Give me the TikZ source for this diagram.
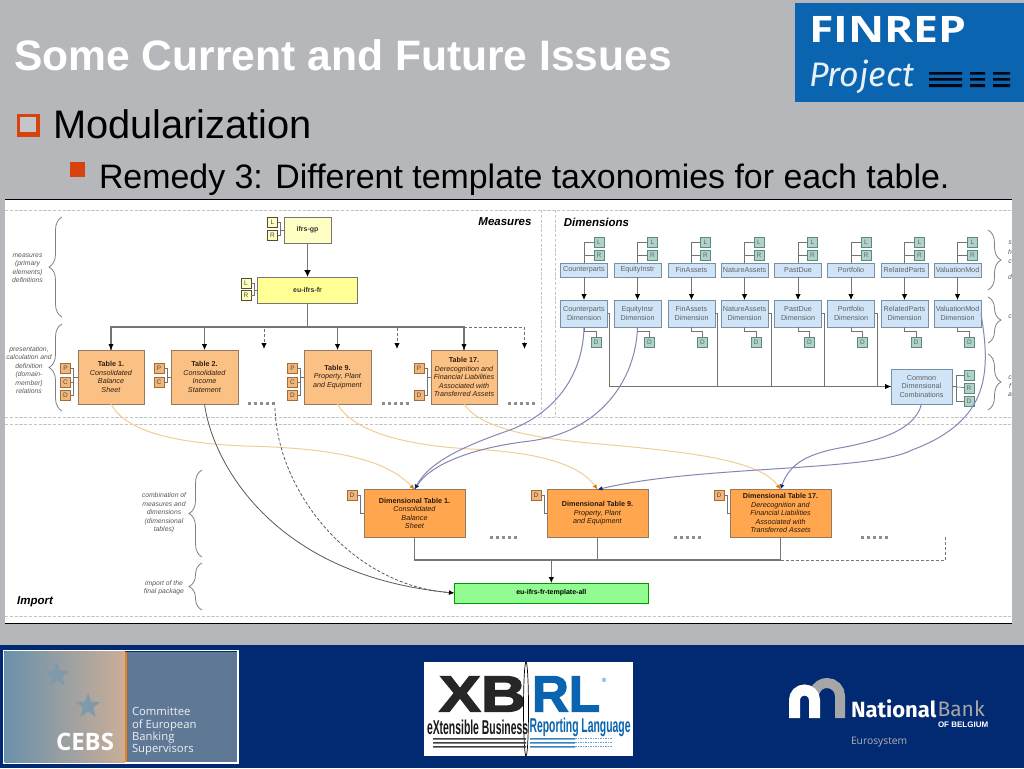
\documentclass[tikz,border=0pt]{standalone}
\usepackage{fontspec}
\setmainfont{Liberation Sans}
\newfontfamily\logofont{Fira Sans}
\newfontfamily\humanfont{Open Sans}
\newfontfamily\heavyfont[FakeBold=2.5]{Liberation Sans Bold}
\usetikzlibrary{arrows.meta,positioning,decorations.pathreplacing,shapes.geometric}
\definecolor{slidebg}{HTML}{B5B7BA}
\definecolor{navy}{HTML}{022A73}
\definecolor{finblue}{HTML}{0A64AF}
\definecolor{bullet}{HTML}{D8420F}
\definecolor{panelline}{HTML}{C4C6C6}
\definecolor{boxline}{HTML}{777777}
\definecolor{gpyellow}{HTML}{FFFFC4}
\definecolor{euyellow}{HTML}{FFFF96}
\definecolor{tblfill}{HTML}{FBC084}
\definecolor{tblline}{HTML}{977A5E}
\definecolor{dtfill}{HTML}{FFA64F}
\definecolor{dimfill}{HTML}{CFE4F7}
\definecolor{dimline}{HTML}{7B8FA3}
\definecolor{tealfill}{HTML}{AED2CC}
\definecolor{tealline}{HTML}{5F8878}
\definecolor{bluelink}{HTML}{8486B4}
\definecolor{orangelink}{HTML}{F1CE98}
\definecolor{greenfill}{HTML}{92FC92}
\definecolor{slate}{HTML}{5F7895}
\definecolor{cebsleft}{HTML}{6A91AB}
\definecolor{cebsmid}{HTML}{A2B7B8}
\definecolor{cebsright}{HTML}{CBAE98}
\definecolor{cebsstar}{HTML}{7E9AAB}
\begin{document}
\begin{tikzpicture}[x=1pt,y=-1pt,>=Latex,
every node/.style={inner sep=0pt,outer sep=0pt},
dtext/.style={font=\fontsize{7.2}{8.5}\selectfont,align=center},
sidetext/.style={dtext,text=black!65,font=\fontsize{6.8}{8.5}\selectfont\itshape},
headtext/.style={font=\fontsize{11.5}{12}\selectfont\bfseries\itshape},
gpbox/.style={draw=boxline,line width=0.8pt,dtext,text=black!80,font=\fontsize{7}{8.5}\selectfont\bfseries},
tblbox/.style={draw=tblline,line width=0.9pt,fill=tblfill,dtext,minimum height=54pt,text=black!75!brown},
dtbox/.style={draw=tblline,line width=0.9pt,fill=dtfill,dtext,minimum width=101pt,minimum height=47.5pt,text=black!80!brown},
namebox/.style={draw=dimline,line width=0.8pt,fill=dimfill,dtext,text=black!62,minimum width=47pt,minimum height=14pt},
dimbox/.style={namebox,minimum height=27pt},
lrbadge/.style={draw=black!55!olive,line width=0.6pt,fill=gpyellow,dtext,text=black!70,minimum size=10pt,font=\fontsize{6.5}{7}\selectfont},
orbadge/.style={draw=brown!85!black,line width=0.7pt,fill=tblfill!85!brown,dtext,text=black!70,minimum size=10pt,font=\fontsize{6.5}{7}\selectfont},
tlbadge/.style={draw=tealline,line width=0.7pt,fill=tealfill,dtext,text=black!60,minimum size=10pt,font=\fontsize{6.5}{7}\selectfont},
stub/.style={draw=black!55,line width=0.6pt},
bus/.style={draw=boxline,line width=1.5pt},
arrowline/.style={draw=black!55,line width=1pt,-{Latex[length=6pt,width=5.5pt,color=black]}},
skipdots/.style={draw=black!45,line width=3pt,dash pattern=on 3pt off 3pt},
bluecurve/.style={draw=bluelink,line width=1pt,-{Latex[length=5pt,width=4.5pt,color=navy]}},
orangecurve/.style={draw=orangelink,line width=1pt,-{Latex[length=5pt,width=4.5pt,color=orange!90!black]}},
graycurve/.style={draw=black!65,line width=0.8pt,-{Latex[length=5pt,width=4.5pt,color=black]}},
panelrule/.style={draw=panelline,line width=0.9pt,dash pattern=on 3.2pt off 1.6pt},
bracket/.style={draw=black!50,line width=0.8pt,decorate,decoration={brace,amplitude=13pt,aspect=0.5}}]
\useasboundingbox (0,0) rectangle (1024,768);
\fill[slidebg] (0,0) rectangle (1024,768);
\fill[navy] (0,645) rectangle (1024,768);
\fill[white] (5,199) rectangle (1012,623);
\draw[black,line width=1pt] (5,199) -- (1012,199);
\draw[black,line width=1pt] (5,623) -- (1012,623);
\node[anchor=west,text=white,font=\fontsize{42.6}{46}\selectfont\bfseries] (title) at (14,55) {Some Current and Future Issues};
\fill[bullet] (17,114) rectangle (40,137);
\fill[slidebg!80!white] (19.5,116.5) rectangle (35.5,131.5);
\node[anchor=west,font=\fontsize{39.8}{44}\selectfont] (topic) at (53,124) {Modularization};
\fill[bullet] (70,162) rectangle (85,177);
\node[anchor=west,font=\fontsize{33.9}{38}\selectfont] (remedy) at (99,179.5) {Remedy 3: Different template taxonomies for each table.};
%
\fill[finblue] (795,3) rectangle (1024,102);
\node[anchor=west,text=white,font=\fontsize{36.5}{40}\selectfont\humanfont\bfseries] (finrep) at (809,29) {\scalebox{1.22}[1]{FINREP}};
\node[anchor=west,text=white!90!finblue,font=\fontsize{34}{36}\selectfont\logofont\itshape\mdseries] (project) at (809,77) {Project};
\fill[black!85!navy] (929,72) rectangle (962,74.5) (929,78) rectangle (962,80.5) (929,84) rectangle (962,87);
\fill[black!85!navy] (970,72) rectangle (985,74.5) (970,78) rectangle (985,80.5) (970,84) rectangle (985,87);
\fill[black!85!navy] (993,72) rectangle (1010,74.5) (993,78) rectangle (1010,80.5) (993,84) rectangle (1010,87);
%
\draw[panelrule] (5,210) -- (1012,210);
\draw[panelrule] (5,417) -- (1012,417);
\draw[panelrule] (5,424) -- (1012,424);
\draw[panelrule] (5,616) -- (1012,616);
\draw[panelrule] (541,210) -- (541,417);
\draw[panelrule] (555,210) -- (555,417);
\node[headtext] (measures) at (505,222) {Measures};
\node[headtext] (dimensions) at (596.5,222) {Dimensions};
\node[headtext] (import) at (35,602) {Import};
%
\draw[bracket] (62,317) -- (62,217);
\draw[bracket] (62,411) -- (62,324);
\draw[bracket] (202,557) -- (202,470);
\draw[bracket] (202,610) -- (202,563);
\draw[bracket] (988,230) -- (988,290);
\draw[bracket] (988,297) -- (988,343);
\draw[bracket] (988,354) -- (988,410);
\node[sidetext] (sidea) at (27.5,268) {measures\\(primary\\elements)\\definitions};
\node[sidetext] (sideb) at (29,370) {presentation,\\calculation and\\definition\\(domain-\\member)\\relations};
\node[sidetext] (sidec) at (164,513) {combination of\\measures and\\dimensions\\(dimensional\\tables)};
\node[sidetext] (sided) at (164,587.5) {import of the\\final package};
\node[sidetext] (cuta) at (1010,243) {s};
\node[sidetext] (cutb) at (1010,252) {h};
\node[sidetext] (cutc) at (1010,262) {c};
\node[sidetext] (cutd) at (1010,277) {d};
\node[sidetext] (cute) at (1010,317) {c};
\node[sidetext] (cutf) at (1010,378) {c};
\node[sidetext] (cutg) at (1010,386) {f};
\node[sidetext] (cuth) at (1010,395) {a};
%
\node[gpbox,fill=gpyellow,minimum width=47pt,minimum height=26pt] (gp) at (307.5,230) {ifrs-gp};
\node[gpbox,fill=euyellow,minimum width=100pt,minimum height=26pt] (eu) at (307.5,290) {eu-ifrs-fr};
\node[lrbadge] (gpl) at (272.5,222) {L};
\node[lrbadge,below=3pt of gpl] (gpr) {R};
\node[lrbadge] (eul) at (246,283) {L};
\node[lrbadge,below=2.5pt of eul] (eur) {R};
\draw[stub] (gpl.east) -- ++(3,0) |- (gp.west);
\draw[stub] (gpr.east) -- ++(3,0) |- (gp.west);
\draw[stub] (eul.east) -- ++(3,0) |- (eu.west);
\draw[stub] (eur.east) -- ++(3,0) |- (eu.west);
\draw[bus,-{Latex[length=7pt,width=7pt,color=black]}] (gp.south) -- (eu.north);
\draw[bus] (eu.south) -- ++(0,24) coordinate (bustop);
\node[tblbox,minimum width=66pt] (t1) at (111,377) {\textbf{Table 1.}\\\textit{Consolidated}\\\textit{Balance}\\\textit{Sheet}};
\node[tblbox,minimum width=67pt,right=27pt of t1] (t2) {\textbf{Table 2.}\\\textit{Consolidated}\\\textit{Income}\\\textit{Statement}};
\node[tblbox,minimum width=67pt,right=66pt of t2] (t9) {\textbf{Table 9.}\\\textit{Property, Plant}\\\textit{and Equipment}};
\node[tblbox,minimum width=66pt,right=60pt of t9] (t17) {\textbf{Table 17.}\\\textit{Derecognition and}\\\textit{Financial Liabilities}\\\textit{Associated with}\\\textit{Transferred Assets}};
\coordinate (more1) at (264,349);
\coordinate (more2) at (397,349);
\coordinate (more3) at (524.5,349);
\draw[bus] (bustop) -| (t1.north);
\draw[bus] (bustop) -| (t17.north);
\draw[arrowline] (bustop) -| (t1.north);
\draw[arrowline] (bustop) -| (t2.north);
\draw[arrowline] (bustop) -| (t9.north);
\draw[arrowline] (bustop) -| (t17.north);
\draw[arrowline,densely dashed] (bustop) -| (more1);
\draw[arrowline,densely dashed] (bustop) -| (more2);
\draw[arrowline,densely dashed] (t17.north |- bustop) -| (more3);
\node[orbadge] (t1p) at (65.5,368.5) {P};
\node[orbadge] (t1c) at (65.5,382) {C};
\node[orbadge] (t1d) at (65.5,395) {D};
\node[orbadge] (t2p) at (159,368.5) {P};
\node[orbadge] (t2c) at (159,382) {C};
\node[orbadge] (t9p) at (292.5,368.5) {P};
\node[orbadge] (t9c) at (292.5,382) {C};
\node[orbadge] (t9d) at (292.5,395) {D};
\node[orbadge] (t17p) at (419,368.5) {P};
\node[orbadge] (t17d) at (419,395) {D};
\draw[stub] (t1p.east) -- ++(3,0) |- (t1.west);
\draw[stub] (t1c.east) -- ++(3,0) |- (t1.west);
\draw[stub] (t1d.east) -- ++(3,0) |- (t1.west);
\draw[stub] (t2p.east) -- ++(3,0) |- (t2.west);
\draw[stub] (t2c.east) -- ++(3,0) |- (t2.west);
\draw[stub] (t9p.east) -- ++(3,0) |- (t9.west);
\draw[stub] (t9c.east) -- ++(3,0) |- (t9.west);
\draw[stub] (t9d.east) -- ++(3,0) |- (t9.west);
\draw[stub] (t17p.east) -- ++(3,0) |- (t17.west);
\draw[stub] (t17d.east) -- ++(3,0) |- (t17.west);
\draw[skipdots] (248,403) -- (275,403);
\draw[skipdots] (382,403) -- (409,403);
\draw[skipdots] (508,403) -- (535,403);
%
\node[namebox] (cp) at (584,270) {Counterparts};
\node[namebox] (ei) at (637.5,270) {EquityInstr};
\node[namebox] (fa) at (691.5,270) {FinAssets};
\node[namebox] (na) at (744.5,270) {NatureAssets};
\node[namebox] (pd) at (798,270) {PastDue};
\node[namebox] (pf) at (851,270) {Portfolio};
\node[namebox] (rp) at (904.5,270) {RelatedParts};
\node[namebox] (vm) at (957.5,270) {ValuationMod};
\node[dimbox,below=23pt of cp] (cpdim) {Counterparts\\Dimension};
\node[dimbox,below=23pt of ei] (eidim) {EquityInsr\\Dimension};
\node[dimbox,below=23pt of fa] (fadim) {FinAssets\\Dimension};
\node[dimbox,below=23pt of na] (nadim) {NatureAssets\\Dimension};
\node[dimbox,below=23pt of pd] (pddim) {PastDue\\Dimension};
\node[dimbox,below=23pt of pf] (pfdim) {Portfolio\\Dimension};
\node[dimbox,below=23pt of rp] (rpdim) {RelatedParts\\Dimension};
\node[dimbox,below=23pt of vm] (vmdim) {ValuationMod\\Dimension};
\node[tlbadge] (cpl) at (599,242) {L};
\node[tlbadge] (eil) at (652.5,242) {L};
\node[tlbadge] (fal) at (705.5,242) {L};
\node[tlbadge] (nal) at (759,242) {L};
\node[tlbadge] (pdl) at (812.5,242) {L};
\node[tlbadge] (pfl) at (866,242) {L};
\node[tlbadge] (rpl) at (919.5,242) {L};
\node[tlbadge] (vml) at (972.5,242) {L};
\node[tlbadge,below=3.5pt of cpl] (cpr) {R};
\node[tlbadge,below=3.5pt of eil] (eir) {R};
\node[tlbadge,below=3.5pt of fal] (far) {R};
\node[tlbadge,below=3.5pt of nal] (nar) {R};
\node[tlbadge,below=3.5pt of pdl] (pdr) {R};
\node[tlbadge,below=3.5pt of pfl] (pfr) {R};
\node[tlbadge,below=3.5pt of rpl] (rpr) {R};
\node[tlbadge,below=3.5pt of vml] (vmr) {R};
\node[tlbadge] (cpd) at (596,342) {D};
\node[tlbadge] (eid) at (649.5,342) {D};
\node[tlbadge] (fad) at (702.5,342) {D};
\node[tlbadge] (nad) at (756,342) {D};
\node[tlbadge] (pdd) at (809.5,342) {D};
\node[tlbadge] (pfd) at (862.5,342) {D};
\node[tlbadge] (rpd) at (916,342) {D};
\node[tlbadge] (vmd) at (969.5,342) {D};
\draw[stub] (cp.north) |- (cpl); \draw[stub] (cp.north) |- (cpr);
\draw[stub] (ei.north) |- (eil); \draw[stub] (ei.north) |- (eir);
\draw[stub] (fa.north) |- (fal); \draw[stub] (fa.north) |- (far);
\draw[stub] (na.north) |- (nal); \draw[stub] (na.north) |- (nar);
\draw[stub] (pd.north) |- (pdl); \draw[stub] (pd.north) |- (pdr);
\draw[stub] (pf.north) |- (pfl); \draw[stub] (pf.north) |- (pfr);
\draw[stub] (rp.north) |- (rpl); \draw[stub] (rp.north) |- (rpr);
\draw[stub] (vm.north) |- (vml); \draw[stub] (vm.north) |- (vmr);
\draw[arrowline,line width=0.8pt] (cp) -- (cpdim);
\draw[arrowline,line width=0.8pt] (ei) -- (eidim);
\draw[arrowline,line width=0.8pt] (fa) -- (fadim);
\draw[arrowline,line width=0.8pt] (na) -- (nadim);
\draw[arrowline,line width=0.8pt] (pd) -- (pddim);
\draw[arrowline,line width=0.8pt] (pf) -- (pfdim);
\draw[arrowline,line width=0.8pt] (rp) -- (rpdim);
\draw[arrowline,line width=0.8pt] (vm) -- (vmdim);
\draw[stub] (cpdim.south) -- ++(0,4) -| (cpd.north);
\draw[stub] (eidim.south) -- ++(0,4) -| (eid.north);
\draw[stub] (fadim.south) -- ++(0,4) -| (fad.north);
\draw[stub] (nadim.south) -- ++(0,4) -| (nad.north);
\draw[stub] (pddim.south) -- ++(0,4) -| (pdd.north);
\draw[stub] (pfdim.south) -- ++(0,4) -| (pfd.north);
\draw[stub] (rpdim.south) -- ++(0,4) -| (rpd.north);
\draw[stub] (vmdim.south) -- ++(0,4) -| (vmd.north);
\node[namebox,minimum width=61pt,minimum height=35pt] (common) at (921.5,386.5) {Common\\Dimensional\\Combinations};
\node[tlbadge] (coml) at (969,375) {L};
\node[tlbadge] (comr) at (969,388) {R};
\node[tlbadge] (comd) at (969,401.5) {D};
\draw[stub] (common.east) -- ++(4,0) |- (coml);
\draw[stub] (common.east) -- (comr);
\draw[stub] (common.east) -- ++(4,0) |- (comd);
\draw[draw=black!55,line width=0.8pt] (cpdim.east) -- ++(2,0) |- (common.west);
\draw[draw=black!55,line width=0.8pt] (fadim.east) -- ++(2,0) |- (common.west);
\draw[draw=black!55,line width=0.8pt] (nadim.east) -- ++(3,0) |- (common.west);
\draw[draw=black!55,line width=0.8pt] (pddim.east) -- ++(3,0) |- (common.west);
\draw[arrowline,line width=0.8pt] (pfdim.east) -- ++(3,0) |- (common.west);
%
\node[dtbox] (dt1) at (414.5,513.25) {\textbf{Dimensional Table 1.}\\\textit{Consolidated}\\\textit{Balance}\\\textit{Sheet}};
\node[dtbox,right=82pt of dt1] (dt9) {\textbf{Dimensional Table 9.}\\\textit{Property, Plant}\\\textit{and Equipment}};
\node[dtbox,right=82pt of dt9] (dt17) {\textbf{Dimensional Table 17.}\\\textit{Derecognition and}\\\textit{Financial Liabilities}\\\textit{Associated with}\\\textit{Transferred Assets}};
\node[orbadge] (dt1d) at (352,495) {D};
\node[orbadge] (dt9d) at (536,495) {D};
\node[orbadge] (dt17d) at (719,495) {D};
\draw[stub] (dt1d.east) -- ++(3,0) |- (dt1.west);
\draw[stub] (dt9d.east) -- ++(3,0) |- (dt9.west);
\draw[stub] (dt17d.east) -- ++(3,0) |- (dt17.west);
\draw[skipdots] (490,537) -- (517,537);
\draw[skipdots] (674,537) -- (701,537);
\draw[skipdots] (861,537) -- (888,537);
\node[gpbox,fill=greenfill,draw=black!40!green,minimum width=194.5pt,minimum height=20pt,text=black] (tpl) at (551.3,593) {eu-ifrs-fr-template-all};
\coordinate (join) at (551.3,560);
\coordinate (moredt) at (945,537);
\draw[draw=boxline,line width=1.3pt] (dt1.south) |- (join);
\draw[draw=boxline,line width=1.3pt] (dt9.south) |- (join);
\draw[draw=boxline,line width=1.3pt] (dt17.south) |- (join);
\draw[draw=boxline,line width=1pt,densely dashed] (dt17.south |- join) -| (moredt);
\draw[arrowline] (join) -- (tpl.north);
%
\draw[orangecurve] (t1.south) .. controls (125,430) and (170,443) .. (245,446) .. controls (330,448) and (385,458) .. (dt1.north);
\draw[orangecurve] (t9.south) .. controls (352,430) and (400,445) .. (470,449) .. controls (540,452) and (580,465) .. (dt9.north);
\draw[orangecurve] (t17.south) .. controls (480,428) and (530,438) .. (600,444) .. controls (690,452) and (760,460) .. (dt17.north);
\draw[bluecurve] (cpdim.south) .. controls (583,380) and (550,415) .. (510,430) .. controls (470,444) and (430,460) .. (dt1.north);
\draw[bluecurve] (eidim.south) .. controls (636,380) and (600,432) .. (530,441) .. controls (470,448) and (430,465) .. (dt1.north);
\draw[bluecurve] (vmdim.east) .. controls (990,370) and (992,420) .. (912,450) .. controls (870,472) and (700,465) .. (dt9.north);
\draw[bluecurve] (common.south) .. controls (915,430) and (880,440) .. (845,447) .. controls (810,453) and (790,462) .. (dt17.north);
\draw[graycurve] (t2.south) .. controls (212,460) and (270,575) .. (tpl.west);
\coordinate (moret2) at (275,408);
\draw[graycurve,densely dashed] (moret2) .. controls (277,490) and (350,585) .. (tpl.west);
%
\draw[white,line width=1.5pt] (3.5,650.5) rectangle (238,763);
\shade[left color=cebsleft,middle color=cebsmid,right color=cebsright] (4.5,651.5) rectangle (125,762);
\fill[slate] (127,651.5) rectangle (237,762);
\fill[orange!75!brown] (125,651.5) rectangle (127,762);
\node[star,star points=5,star point ratio=2.4,fill=cebsstar,minimum size=26pt] (stara) at (57,675) {};
\node[star,star points=5,star point ratio=2.4,fill=cebsstar,minimum size=26pt] (starb) at (88,706) {};
\node[anchor=west,text=white,font=\fontsize{24}{26}\selectfont\humanfont\bfseries] (cebs) at (56,742) {CEBS};
\node[anchor=north west,align=left,text=white!90!slate,font=\fontsize{11.3}{12.3}\selectfont\humanfont] (cebstxt) at (132,707.5) {Committee\\of European\\Banking\\Supervisors};
%
\fill[white] (424,662) rectangle (633,756);
\node[anchor=west,text=black!85,font=\heavyfont\fontsize{51}{52}\selectfont] (xb) at (439,694) {\scalebox{1.23}[1]{XB}};
\node[anchor=west,text=finblue,font=\heavyfont\fontsize{51}{52}\selectfont] (rl) at (532,694) {\scalebox{1.0}[1]{RL}};
\node[text=finblue,font=\fontsize{6}{6}\selectfont] (reg) at (604,680) {®};
\node[anchor=west,text=black!90,font=\fontsize{20}{20}\selectfont\bfseries] (xbl) at (427,727.5) {\scalebox{0.52}[1]{eXtensible Business}};
\node[anchor=west,text=finblue,font=\fontsize{20}{20}\selectfont\bfseries] (xbr) at (529.5,727.5) {\scalebox{0.52}[1]{Reporting Language}};
\draw[black,line width=0.7pt] (526,709) ellipse (2.5 and 47);
\fill[black!75] (433,738) rectangle (526,739.5) (433,742) rectangle (526,743.5) (433,746) rectangle (526,747.5);
\fill[finblue!80] (530,738) rectangle (575,739.5) (530,742) rectangle (575,743.5) (530,746) rectangle (575,747.5);
\draw[finblue!60,line width=1.5pt,densely dotted] (575,738.7) -- (612,738.7);
\draw[finblue!60,line width=1.5pt,densely dotted] (575,742.7) -- (612,742.7);
\draw[finblue!60,line width=1.5pt,densely dotted] (575,746.7) -- (612,746.7);
%
\draw[gray!70,line width=10pt] (840,718) -- (840,696) arc (360:200:13);
\draw[white,line width=11pt] (794.5,718) -- (794.5,700) arc (180:360:10) -- (814.5,718);
\node[anchor=west,text=white,font=\fontsize{22}{24}\selectfont\logofont\bfseries] (natl) at (851,709) {National};
\node[anchor=west,text=gray!70!white,font=\fontsize{21}{24}\selectfont\logofont\mdseries] (bank) at (937.5,709) {Bank};
\node[anchor=west,text=white,font=\fontsize{8}{9}\selectfont\bfseries] (belg) at (938,725) {OF BELGIUM};
\node[anchor=west,text=gray!60!white,font=\fontsize{10.3}{11}\selectfont\humanfont] (euro) at (851,742) {Eurosystem};
\end{tikzpicture}
\end{document}
